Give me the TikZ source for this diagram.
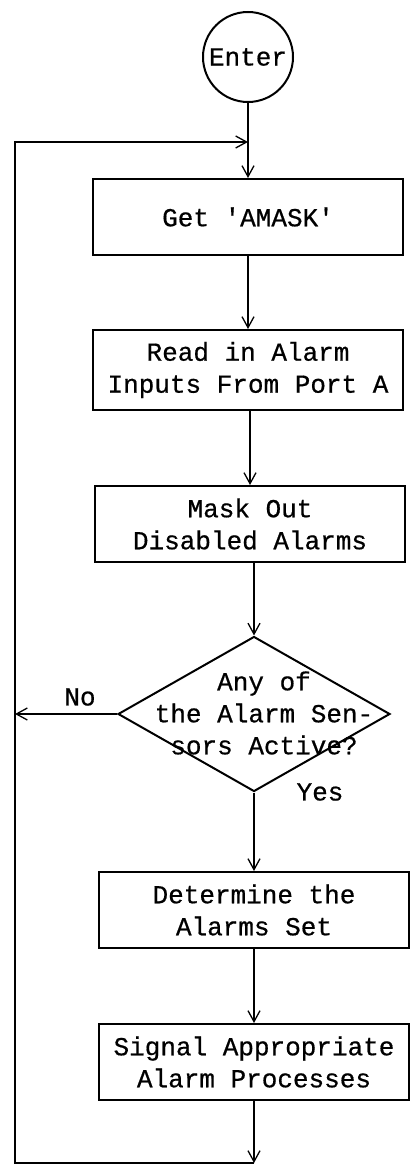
\documentclass[tikz,border=0pt]{standalone}
\usepackage{fontspec}
\setmonofont{Liberation Mono}[FakeBold=0.6]
\usetikzlibrary{shapes.geometric,arrows.meta}

\begin{document}
\begin{tikzpicture}[x=1pt,y=1pt,line width=2pt,
		>={Straight Barb[length=11pt,width=12pt,line width=1.3pt]},
		every node/.style={font=\ttfamily\fontsize{26}{32}\selectfont},
		block/.style={rectangle, draw, minimum width=310pt, minimum height=76pt, align=center, inner sep=0pt},
		decision/.style={diamond, draw, minimum width=272pt, minimum height=155pt, inner sep=0pt}]
		\useasboundingbox (0,0) rectangle (413,-1169);
		% Column of steps at x = 250
		\path (248,-57) node[circle, draw, minimum size=90pt, inner sep=0pt](Enter){Enter}
		(248,-217) node[block](Get){Get 'AMASK'}
		(248,-370) node[block, minimum height=80pt](Read){Read in Alarm\\Inputs From Port A}
		(250,-524) node[block](Mask){Mask Out\\Disabled Alarms}
		(254,-714) node[decision](Active){}
		(264,-713) node[align=center](ActiveText){Any of\\the Alarm Sen-\\sors Active?}
		(254,-910) node[block](Determine){Determine the\\Alarms Set}
		(254,-1062) node[block](Signal){Signal Appropriate\\Alarm Processes};
		\path (80,-697) node(No){No}
		(320,-792) node(Yes){Yes};
		% Loop back to the top
		\coordinate (Bottom) at (254,-1163);
		\coordinate (Corner) at (15,-142);
		\coordinate (Join) at (248,-142);
		\draw [->](Enter) -- (Get);
		\draw [->](Get) -- (Read);
		\draw [->](Read.south -| Mask) -- (Mask);
		\draw [->](Mask.south -| Active) -- (Active.north);
		\draw [->](Active.south) -- (Determine);
		\draw [->](Determine) -- (Signal);
		\draw [->](Signal) -- (Bottom);
		\draw [->](Bottom) -| (Corner) -- (Join);
		\draw [->](Active.west) -- (Active.west -| Corner);
		
	\end{tikzpicture}
\end{document}
